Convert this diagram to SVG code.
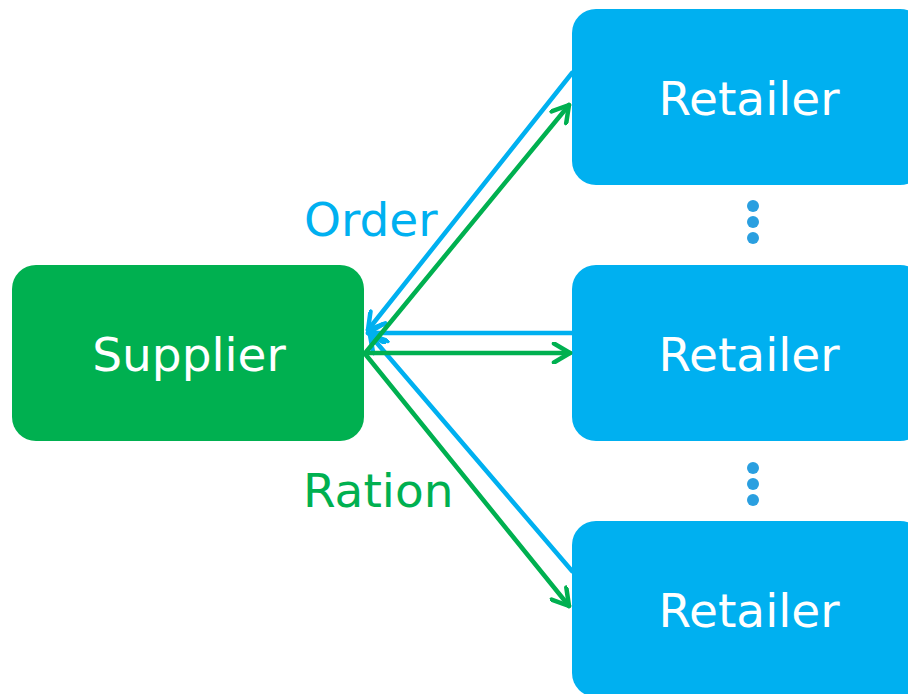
<svg xmlns="http://www.w3.org/2000/svg" width="908" height="694" viewBox="0 0 908 694">
  <defs>
    <style>
      .box-s { fill: #00B050; }
      .box-r { fill: #00B0F0; }
      .lbl { font-family: "DejaVu Sans", Verdana, sans-serif; font-size: 47px; fill: #ffffff; text-anchor: middle; }
      .tag { font-family: "DejaVu Sans", Verdana, sans-serif; font-size: 47px; }
      .ln { fill: none; stroke-width: 4.5; stroke-linecap: round; }
      .blue { stroke: #00B0F0; }
      .green { stroke: #00B050; }
      .dot { fill: #2A9FE0; }
    </style>
    <marker id="ahBlue" viewBox="0 0 22 22" refX="19" refY="11" markerWidth="22" markerHeight="22" markerUnits="userSpaceOnUse" orient="auto">
      <path d="M3,1.5 L19,11 L3,20.5" fill="none" stroke="#00B0F0" stroke-width="4.5" stroke-linecap="round" stroke-linejoin="round"/>
    </marker>
    <marker id="ahGreen" viewBox="0 0 22 22" refX="19" refY="11" markerWidth="22" markerHeight="22" markerUnits="userSpaceOnUse" orient="auto">
      <path d="M3,1.5 L19,11 L3,20.5" fill="none" stroke="#00B050" stroke-width="4.5" stroke-linecap="round" stroke-linejoin="round"/>
    </marker>
  </defs>
  <rect width="908" height="694" fill="#ffffff"/>

  <g id="supplier">
    <rect class="box-s" x="12" y="265" width="352" height="176" rx="24"/>
    <text class="lbl" x="189" y="371">Supplier</text>
  </g>
  <g id="retailer1">
    <rect class="box-r" x="572" y="9" width="352" height="176" rx="24"/>
    <text class="lbl" x="749" y="115">Retailer</text>
  </g>
  <g id="retailer2">
    <rect class="box-r" x="572" y="265" width="352" height="176" rx="24"/>
    <text class="lbl" x="749" y="371">Retailer</text>
  </g>
  <g id="retailer3">
    <rect class="box-r" x="572" y="521" width="352" height="176" rx="24"/>
    <text class="lbl" x="749" y="627">Retailer</text>
  </g>

  <g id="ellipsis">
    <circle class="dot" cx="753" cy="206" r="6"/>
    <circle class="dot" cx="753" cy="222" r="6"/>
    <circle class="dot" cx="753" cy="238" r="6"/>
    <circle class="dot" cx="753" cy="468" r="6"/>
    <circle class="dot" cx="753" cy="484" r="6"/>
    <circle class="dot" cx="753" cy="500" r="6"/>
  </g>

  <g id="connectors">
    <!-- orders: retailers to supplier -->
    <line class="ln blue" x1="572" y1="73" x2="368" y2="330" marker-end="url(#ahBlue)"/>
    <line class="ln blue" x1="572" y1="333" x2="368" y2="333" marker-end="url(#ahBlue)"/>
    <line class="ln blue" x1="572" y1="571" x2="370" y2="335" marker-end="url(#ahBlue)"/>
    <!-- rations: supplier to retailers -->
    <line class="ln green" x1="366" y1="352" x2="569" y2="105" marker-end="url(#ahGreen)"/>
    <line class="ln green" x1="366" y1="353" x2="570" y2="353" marker-end="url(#ahGreen)"/>
    <line class="ln green" x1="366" y1="355" x2="569" y2="606" marker-end="url(#ahGreen)"/>
  </g>

  <g id="labels">
    <text class="tag" x="304" y="236" fill="#00B0F0">Order</text>
    <text class="tag" x="303" y="507" fill="#00B050">Ration</text>
  </g>
</svg>
